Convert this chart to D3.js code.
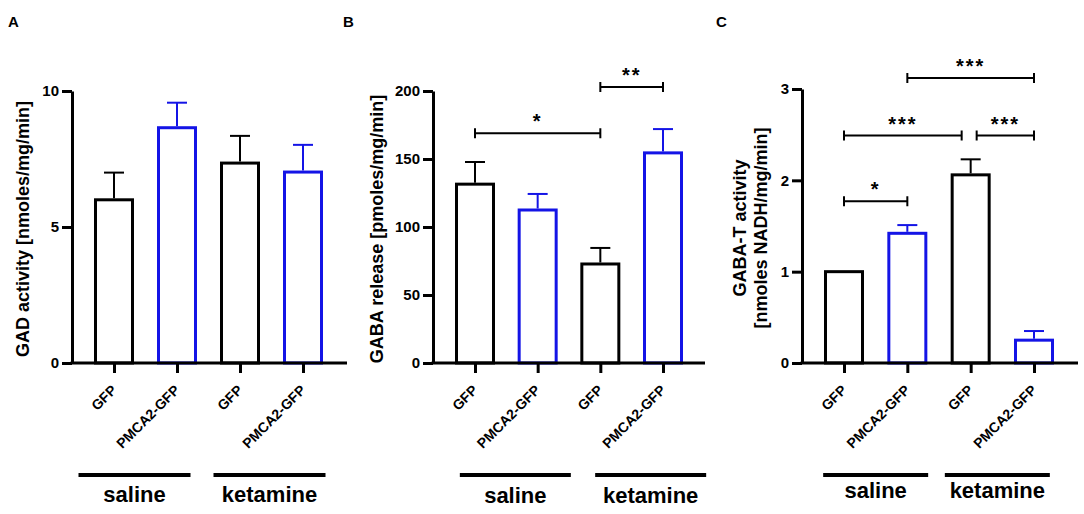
<!DOCTYPE html>
<html>
<head>
<meta charset="utf-8">
<script src="https://cdn.jsdelivr.net/npm/d3@7"></script>
<style>
body { margin: 0; background: #fff; }
svg text { font-family: "Liberation Sans", Arial, sans-serif; font-weight: bold; fill: #000; }
</style>
</head>
<body>
<div id="figure"></div>
<script>
let svgWidth = 1084;
let svgHeight = 514;

// shared x categories and treatment groups
let categories = ["GFP", "PMCA2-GFP", "GFP", "PMCA2-GFP"];
let groups = ["saline", "ketamine"];
let barColors = ["#000000", "#1414e6", "#000000", "#1414e6"];

// A - GAD activity
let gadMean = [6.0, 8.65, 7.35, 7.02];
let gadSem = [1.0, 0.92, 1.0, 1.0];
let gadTicks = [0, 5, 10];

// B - GABA release
let releaseMean = [131.5, 112.5, 72.8, 154.5];
let releaseSem = [16.3, 11.8, 11.8, 17.5];
let releaseTicks = [0, 50, 100, 150, 200];
let releaseSig = [
  { from: 0, to: 2, y: 169, label: "*" },
  { from: 2, to: 3, y: 203, label: "**" }
];

// C - GABA-T activity
let gabatMean = [1.0, 1.42, 2.06, 0.25];
let gabatSem = [0, 0.09, 0.17, 0.10];
let gabatTicks = [0, 1, 2, 3];
let gabatSig = [
  { from: 0, to: 1, y: 1.77, label: "*" },
  { from: 0, to: 2, y: 2.49, label: "***", toShift: -9 },
  { from: 2, to: 3, y: 2.49, label: "***", fromShift: 6 },
  { from: 1, to: 3, y: 3.12, label: "***" }
];

let svg = d3.select("#figure")
  .append("svg")
  .attr("width", svgWidth)
  .attr("height", svgHeight);

svg.append("rect")
  .attr("width", svgWidth)
  .attr("height", svgHeight)
  .attr("fill", "#fff");

let baseY = 363;

let panels = [
  { letter: "A", letterX: 8, axisX: 72, xEnd: 347, centers: [114, 303], topY: 91,
    mean: gadMean, sem: gadSem, ticks: gadTicks, sig: [],
    yLabel: ["GAD activity [nmoles/mg/min]"], labelX: [23],
    groupShift: [-11, -2], groupWidth: 112, groupTextY: 502 },
  { letter: "B", letterX: 343, axisX: 433, xEnd: 705, centers: [475, 663], topY: 91,
    mean: releaseMean, sem: releaseSem, ticks: releaseTicks, sig: releaseSig,
    yLabel: ["GABA release [pmoles/mg/min]"], labelX: [377],
    groupShift: [9, 19], groupWidth: 111, groupTextY: 503 },
  { letter: "C", letterX: 716, axisX: 802, xEnd: 1078, centers: [844, 1034], topY: 89,
    mean: gabatMean, sem: gabatSem, ticks: gabatTicks, sig: gabatSig,
    yLabel: ["GABA-T activity", "[nmoles NADH/mg/min]"], labelX: [740, 761],
    groupShift: [0, -5], groupWidth: 105, groupTextY: 498 }
];

function drawPanel(p) {
  let g = svg.append("g");

  let x = d3.scalePoint()
    .domain(d3.range(categories.length))
    .range(p.centers);

  let y = d3.scaleLinear()
    .domain([0, d3.max(p.ticks)])
    .range([baseY, p.topY]);

  let barWidth = 37;

  // panel letter
  g.append("text")
    .attr("x", p.letterX)
    .attr("y", 27)
    .style("font-size", "15px")
    .text(p.letter);

  // bars
  g.selectAll("rect.bar")
    .data(p.mean)
    .enter()
    .append("rect")
    .attr("class", "bar")
    .attr("x", (d, i) => x(i) - barWidth / 2)
    .attr("y", d => y(d))
    .attr("width", barWidth)
    .attr("height", d => y(0) - y(d))
    .attr("fill", "#fff")
    .attr("stroke", (d, i) => barColors[i])
    .attr("stroke-width", 3);

  // error bars (upper only)
  p.mean.forEach(function(m, i) {
    if (!p.sem[i]) return;
    g.append("line")
      .attr("x1", x(i)).attr("x2", x(i))
      .attr("y1", y(m) - 1.5).attr("y2", y(m + p.sem[i]))
      .attr("stroke", barColors[i])
      .attr("stroke-width", 2);
    g.append("line")
      .attr("x1", x(i) - 10).attr("x2", x(i) + 10)
      .attr("y1", y(m + p.sem[i])).attr("y2", y(m + p.sem[i]))
      .attr("stroke", barColors[i])
      .attr("stroke-width", 2);
  });

  // y axis
  let yAxis = g.append("g")
    .attr("transform", `translate(${p.axisX}, 0)`)
    .call(d3.axisLeft(y).tickValues(p.ticks).tickFormat(d3.format("d"))
      .tickSize(10).tickSizeOuter(0).tickPadding(3));
  yAxis.select(".domain").attr("stroke-width", 3);
  yAxis.selectAll(".tick line").attr("stroke-width", 3);
  yAxis.selectAll("text").style("font-size", "15px").attr("font-family", null);

  // x axis
  let xAxis = g.append("g")
    .attr("transform", `translate(0, ${baseY})`)
    .call(d3.axisBottom(x).tickFormat(i => categories[i]).tickSize(10).tickSizeOuter(0));
  xAxis.select(".domain").remove();
  xAxis.selectAll(".tick line").attr("stroke-width", 3);
  xAxis.selectAll("text")
    .style("font-size", "14px")
    .attr("font-family", null)
    .attr("text-anchor", "end")
    .attr("x", 0)
    .attr("y", 0)
    .attr("dy", 0)
    .attr("transform", "translate(3, 28) rotate(-45)");

  g.append("line")
    .attr("x1", p.axisX - 1.5).attr("x2", p.xEnd)
    .attr("y1", baseY).attr("y2", baseY)
    .attr("stroke", "#000")
    .attr("stroke-width", 3);

  // y axis title
  p.yLabel.forEach(function(t, k) {
    g.append("text")
      .attr("transform", `translate(${p.labelX[k]}, ${(baseY + p.topY) / 2 + 2}) rotate(-90)`)
      .attr("text-anchor", "middle")
      .attr("dy", "0.35em")
      .style("font-size", "18px")
      .text(t);
  });

  // group bars and labels
  groups.forEach(function(name, k) {
    let mid = (x(2 * k) + x(2 * k + 1)) / 2 + p.groupShift[k];
    g.append("line")
      .attr("x1", mid - p.groupWidth / 2).attr("x2", mid + p.groupWidth / 2)
      .attr("y1", 475).attr("y2", 475)
      .attr("stroke", "#000")
      .attr("stroke-width", 4);
    g.append("text")
      .attr("x", mid)
      .attr("y", p.groupTextY)
      .attr("text-anchor", "middle")
      .style("font-size", "22px")
      .text(name);
  });

  // significance brackets
  p.sig.forEach(function(s) {
    let x1 = x(s.from) + (s.fromShift || 0);
    let x2 = x(s.to) + (s.toShift || 0);
    let yy = y(s.y);
    g.append("path")
      .attr("d", `M${x1},${yy - 5}V${yy + 5}M${x1},${yy}H${x2}M${x2},${yy - 5}V${yy + 5}`)
      .attr("fill", "none")
      .attr("stroke", "#000")
      .attr("stroke-width", 2);
    g.append("text")
      .attr("x", (x1 + x2) / 2)
      .attr("y", yy - 5)
      .attr("text-anchor", "middle")
      .style("font-size", "20px")
      .style("letter-spacing", "2px")
      .text(s.label);
  });
}

panels.forEach(drawPanel);
</script>
</body>
</html>
